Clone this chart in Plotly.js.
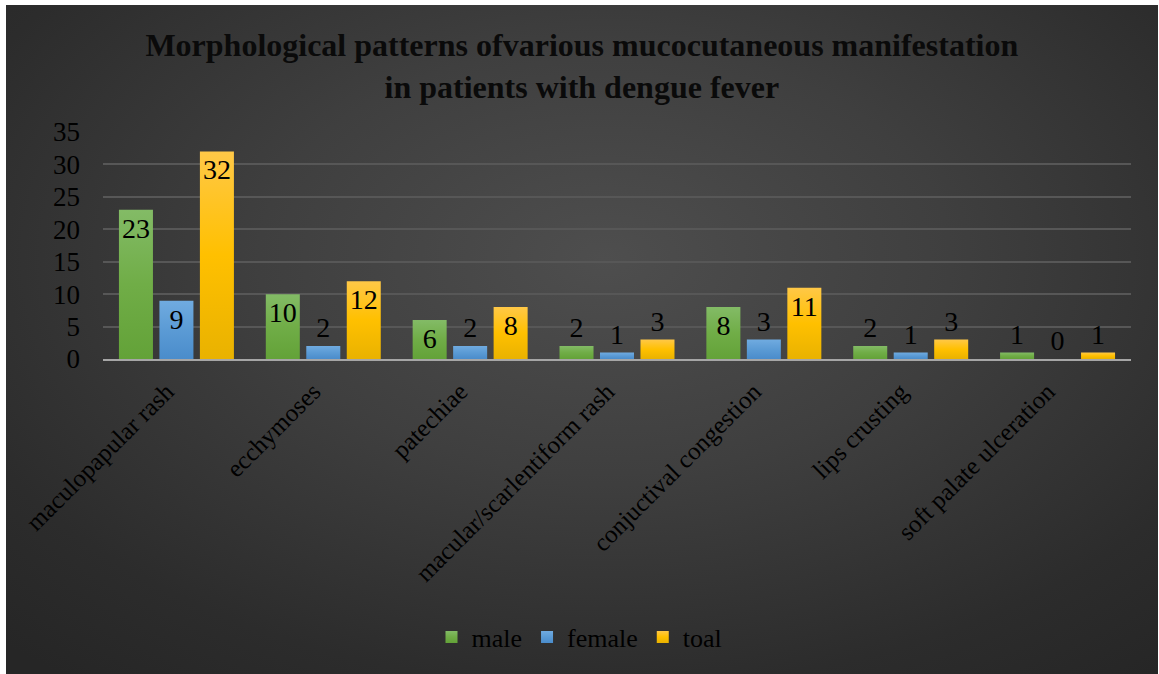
<!DOCTYPE html>
<html>
<head>
<meta charset="utf-8">
<script src="https://cdn.plot.ly/plotly-3.0.1.min.js"></script>
<style>
  html, body { margin: 0; padding: 0; background: #ffffff; }
  #wrap { position: relative; width: 1159px; height: 674px; overflow: hidden; }
  #bg { position: absolute; left: 6px; top: 5px; width: 1152px; height: 669px;
        background: radial-gradient(ellipse 75% 80% at 52% 38%, #4e4e4e 0%, #3f3f3f 40%, #2c2c2c 80%, #262626 100%); }
  #chart { position: absolute; left: 0; top: 0; width: 1159px; height: 674px; }
</style>
</head>
<body>
<div id="wrap">
  <div id="bg"></div>
  <div id="chart"></div>
</div>
<script>
const categories = ["maculopapular rash", "ecchymoses", "patechiae", "macular/scarlentiform rash",
                    "conjuctival congestion", "lips crusting", "soft palate ulceration"];
const male   = [23, 10, 6, 2, 8, 2, 1];
const female = [9, 2, 2, 1, 3, 1, 0];
const toal   = [32, 12, 8, 3, 11, 3, 1];
const seriesNames = ["male", "female", "toal"];
const yTicks = [0, 5, 10, 15, 20, 25, 30, 35];

const serif = "Liberation Serif";
const colors = ["#70ad47", "#5b9bd5", "#ffc000"];
// top / middle / bottom shades for the Office-style vertical gradient
const gradStops = [
  ["#83bb66", "#70ad47", "#63a238"],
  ["#70abe0", "#5b9bd5", "#4a8ccb"],
  ["#ffc847", "#ffc000", "#e9b200"]
];

function mk(vals, name, color) {
  return {
    type: "bar", x: categories, y: vals, name: name,
    marker: { color: color, line: { width: 0 } },
    text: vals.map(String),
    textposition: vals.map(v => (v === 0 ? "outside" : "auto")),
    insidetextanchor: "end", textangle: 0,
    constraintext: "none", cliponaxis: false,
    textfont: { family: serif, size: 28, color: "#000000" },
    insidetextfont: { family: serif, size: 28, color: "#000000" },
    outsidetextfont: { family: serif, size: 28, color: "#000000" },
    hoverinfo: "x+y+name"
  };
}

const data = [mk(male, seriesNames[0], colors[0]), mk(female, seriesNames[1], colors[1]), mk(toal, seriesNames[2], colors[2])];

const layout = {
  width: 1159, height: 674,
  font: { family: serif, color: "#000000" },
  paper_bgcolor: "rgba(0,0,0,0)", plot_bgcolor: "rgba(0,0,0,0)",
  margin: { l: 103, r: 28, t: 132, b: 315 },
  barmode: "group", bargap: 0.173, bargroupgap: 0.16,
  title: {
    text: "<b>Morphological patterns ofvarious mucocutaneous manifestation<br>in patients with dengue fever</b>",
    font: { family: serif, size: 32, color: "#0a0a0a" },
    x: 0.502, xanchor: "center", xref: "container",
    y: 1 - 56 / 674, yanchor: "middle", yref: "container"
  },
  xaxis: {
    type: "category", tickangle: -45, showgrid: false,
    showline: true, linecolor: "#a6a6a6", linewidth: 2,
    ticks: "", ticklabelstandoff: 6, ticklabelshift: -10,
    tickfont: { family: serif, size: 25, color: "#000000" }
  },
  yaxis: {
    range: [0, 35], tickvals: yTicks, ticktext: yTicks.map(String),
    showgrid: true, gridcolor: "#575757", gridwidth: 2,
    zeroline: false, showline: false, ticks: "", ticklabelstandoff: 22,
    tickfont: { family: serif, size: 27, color: "#000000" }
  },
  showlegend: true,
  legend: {
    orientation: "h", xref: "container", yref: "container",
    x: 0.5, xanchor: "center", y: 1 - 637 / 674, yanchor: "middle",
    font: { family: serif, size: 26, color: "#000000" },
    bgcolor: "rgba(0,0,0,0)", itemwidth: 30, tracegroupgap: 0
  }
};

function applyGradients(gd) {
  const svg = gd.querySelector("svg.main-svg");
  if (!svg) return;
  const NS = "http://www.w3.org/2000/svg";
  let defs = svg.querySelector("defs");
  if (!defs) { defs = document.createElementNS(NS, "defs"); svg.insertBefore(defs, svg.firstChild); }
  gradStops.forEach((st, i) => {
    const g = document.createElementNS(NS, "linearGradient");
    g.setAttribute("id", "bargrad" + i);
    g.setAttribute("x1", "0"); g.setAttribute("y1", "0");
    g.setAttribute("x2", "0"); g.setAttribute("y2", "1");
    [[0, st[0]], [0.5, st[1]], [1, st[2]]].forEach(([o, c]) => {
      const s = document.createElementNS(NS, "stop");
      s.setAttribute("offset", o); s.setAttribute("stop-color", c);
      g.appendChild(s);
    });
    defs.appendChild(g);
  });
  gd.querySelectorAll(".barlayer .trace").forEach((tr, i) => {
    tr.querySelectorAll(".point path").forEach(p => { p.style.fill = "url(#bargrad" + (i % 3) + ")"; });
  });
  gd.querySelectorAll(".legend .traces").forEach((tr, i) => {
    tr.querySelectorAll(".legendpoints path").forEach(p => { p.style.fill = "url(#bargrad" + (i % 3) + ")"; });
  });
}

Plotly.newPlot("chart", data, layout, { displayModeBar: false, staticPlot: true })
  .then(gd => applyGradients(gd));
</script>
</body>
</html>
